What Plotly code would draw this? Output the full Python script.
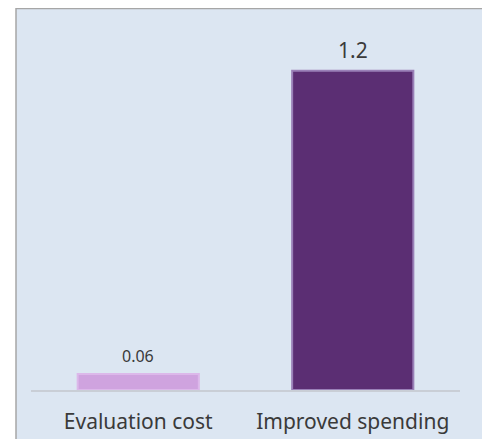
import plotly.graph_objects as go

categories = ["Evaluation cost", "Improved spending"]
values = [0.06, 1.2]
labels = ["0.06", "1.2"]
fill_colors = ["#cfa3df", "#5b2e73"]
edge_colors = ["#dcb8ea", "#9a80b8"]
label_sizes = [16, 21]

W, H = 490, 439
ml, mr, mt, mb = 23, 38, 22, 55
pw = W - ml - mr
ph = H - mt - mb

fig = go.Figure(go.Bar(
    x=categories, y=values,
    marker=dict(color=fill_colors, line=dict(color=edge_colors, width=2)),
    cliponaxis=False, width=0.565,
))

for cat, val, lab, size in zip(categories, values, labels, label_sizes):
    fig.add_annotation(x=cat, y=val, text=lab, showarrow=False,
                       yanchor="bottom", yshift=5,
                       font=dict(size=size, color="#3a3a3a", family="Noto Sans"))

fig.add_shape(type="rect", xref="paper", yref="paper",
              x0=(8 - ml) / pw, x1=(479 - ml) / pw,
              y0=(H - mb - 450) / ph, y1=(H - mb - 0.5) / ph,
              fillcolor="#dce6f2", line=dict(color="#a6a6a6", width=1.5),
              layer="below")

fig.update_layout(
    width=W, height=H,
    margin=dict(l=ml, r=mr, t=mt, b=mb),
    paper_bgcolor="white", plot_bgcolor="rgba(0,0,0,0)",
    showlegend=False,
    font=dict(family="Noto Sans", color="#333333"),
)
fig.update_xaxes(showline=True, linecolor="#c9ced6", linewidth=1.5,
                 ticks="outside", ticklen=12, tickcolor="rgba(0,0,0,0)",
                 tickfont=dict(size=21, color="#3a3a3a"), showgrid=False)
fig.update_yaxes(range=[0, 1.353], visible=False, showgrid=False, zeroline=False)

fig.write_html("out.html")
